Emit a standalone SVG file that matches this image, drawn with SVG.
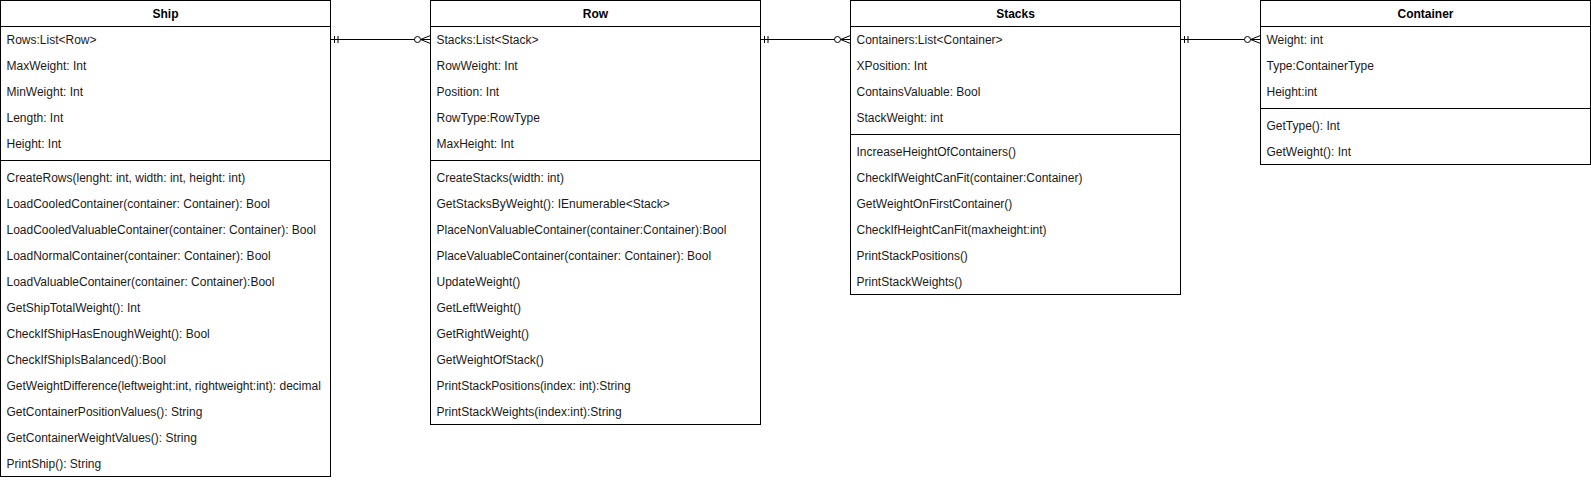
<svg xmlns="http://www.w3.org/2000/svg" width="1591" height="480" viewBox="0 0 1591 480">
<style>
.box{fill:#fff;stroke:#000;stroke-width:1}
.sep{stroke:#000;stroke-width:1}
.t{font-family:"Liberation Sans",Arial,Helvetica,sans-serif;font-size:12px;fill:#1a1a1a}
.title{font-family:"Liberation Sans",Arial,Helvetica,sans-serif;font-size:12px;fill:#000;text-anchor:middle;font-weight:bold}
.conn{fill:none;stroke:#000;stroke-width:1}
</style>
<defs>
<marker id="one" markerUnits="userSpaceOnUse" markerWidth="12" markerHeight="12" refX="0" refY="6" orient="auto" overflow="visible">
<path d="M4,2.5 L4,9.5 M7.5,2.5 L7.5,9.5" fill="none" stroke="#000" stroke-width="1"/>
</marker>
<marker id="zeroMany" markerUnits="userSpaceOnUse" markerWidth="20" markerHeight="12" refX="20" refY="6" orient="auto" overflow="visible">
<path d="M10,6 L20,2 M10,6 L20,10 M10,6 L20,6" fill="none" stroke="#000" stroke-width="1"/>
<circle cx="7" cy="6" r="3" fill="#fff" stroke="#000" stroke-width="1"/>
</marker>
</defs>
<rect width="1591" height="480" fill="#fff"/>
<g id="connectors">
<path class="conn" d="M330.5,39.5 L430.5,39.5" marker-start="url(#one)" marker-end="url(#zeroMany)"/>
<path class="conn" d="M760.5,39.5 L850.5,39.5" marker-start="url(#one)" marker-end="url(#zeroMany)"/>
<path class="conn" d="M1180.5,39.5 L1260.5,39.5" marker-start="url(#one)" marker-end="url(#zeroMany)"/>
</g>
<g id="ship">
<rect class="box" x="0.5" y="0.5" width="330" height="476"/>
<line class="sep" x1="0.5" y1="26.5" x2="330.5" y2="26.5"/>
<line class="sep" x1="0.5" y1="160.5" x2="330.5" y2="160.5"/>
<text class="title" x="165.5" y="17.5">Ship</text>
<text class="t" x="6.5" y="43.5">Rows:List&lt;Row&gt;</text>
<text class="t" x="6.5" y="69.5">MaxWeight: Int</text>
<text class="t" x="6.5" y="95.5">MinWeight: Int</text>
<text class="t" x="6.5" y="121.5">Length: Int</text>
<text class="t" x="6.5" y="147.5">Height: Int</text>
<text class="t" x="6.5" y="181.5">CreateRows(lenght: int, width: int, height: int)</text>
<text class="t" x="6.5" y="207.5">LoadCooledContainer(container: Container): Bool</text>
<text class="t" x="6.5" y="233.5">LoadCooledValuableContainer(container: Container): Bool</text>
<text class="t" x="6.5" y="259.5">LoadNormalContainer(container: Container): Bool</text>
<text class="t" x="6.5" y="285.5">LoadValuableContainer(container: Container):Bool</text>
<text class="t" x="6.5" y="311.5">GetShipTotalWeight(): Int</text>
<text class="t" x="6.5" y="337.5">CheckIfShipHasEnoughWeight(): Bool</text>
<text class="t" x="6.5" y="363.5">CheckIfShipIsBalanced():Bool</text>
<text class="t" x="6.5" y="389.5">GetWeightDifference(leftweight:int, rightweight:int): decimal</text>
<text class="t" x="6.5" y="415.5">GetContainerPositionValues(): String</text>
<text class="t" x="6.5" y="441.5">GetContainerWeightValues(): String</text>
<text class="t" x="6.5" y="467.5">PrintShip(): String</text>
</g>
<g id="row">
<rect class="box" x="430.5" y="0.5" width="330" height="424"/>
<line class="sep" x1="430.5" y1="26.5" x2="760.5" y2="26.5"/>
<line class="sep" x1="430.5" y1="160.5" x2="760.5" y2="160.5"/>
<text class="title" x="595.5" y="17.5">Row</text>
<text class="t" x="436.5" y="43.5">Stacks:List&lt;Stack&gt;</text>
<text class="t" x="436.5" y="69.5">RowWeight: Int</text>
<text class="t" x="436.5" y="95.5">Position: Int</text>
<text class="t" x="436.5" y="121.5">RowType:RowType</text>
<text class="t" x="436.5" y="147.5">MaxHeight: Int</text>
<text class="t" x="436.5" y="181.5">CreateStacks(width: int)</text>
<text class="t" x="436.5" y="207.5">GetStacksByWeight(): IEnumerable&lt;Stack&gt;</text>
<text class="t" x="436.5" y="233.5">PlaceNonValuableContainer(container:Container):Bool</text>
<text class="t" x="436.5" y="259.5">PlaceValuableContainer(container: Container): Bool</text>
<text class="t" x="436.5" y="285.5">UpdateWeight()</text>
<text class="t" x="436.5" y="311.5">GetLeftWeight()</text>
<text class="t" x="436.5" y="337.5">GetRightWeight()</text>
<text class="t" x="436.5" y="363.5">GetWeightOfStack()</text>
<text class="t" x="436.5" y="389.5">PrintStackPositions(index: int):String</text>
<text class="t" x="436.5" y="415.5">PrintStackWeights(index:int):String</text>
</g>
<g id="stacks">
<rect class="box" x="850.5" y="0.5" width="330" height="294"/>
<line class="sep" x1="850.5" y1="26.5" x2="1180.5" y2="26.5"/>
<line class="sep" x1="850.5" y1="134.5" x2="1180.5" y2="134.5"/>
<text class="title" x="1015.5" y="17.5">Stacks</text>
<text class="t" x="856.5" y="43.5">Containers:List&lt;Container&gt;</text>
<text class="t" x="856.5" y="69.5">XPosition: Int</text>
<text class="t" x="856.5" y="95.5">ContainsValuable: Bool</text>
<text class="t" x="856.5" y="121.5">StackWeight: int</text>
<text class="t" x="856.5" y="155.5">IncreaseHeightOfContainers()</text>
<text class="t" x="856.5" y="181.5">CheckIfWeightCanFit(container:Container)</text>
<text class="t" x="856.5" y="207.5">GetWeightOnFirstContainer()</text>
<text class="t" x="856.5" y="233.5">CheckIfHeightCanFit(maxheight:int)</text>
<text class="t" x="856.5" y="259.5">PrintStackPositions()</text>
<text class="t" x="856.5" y="285.5">PrintStackWeights()</text>
</g>
<g id="container">
<rect class="box" x="1260.5" y="0.5" width="330" height="164"/>
<line class="sep" x1="1260.5" y1="26.5" x2="1590.5" y2="26.5"/>
<line class="sep" x1="1260.5" y1="108.5" x2="1590.5" y2="108.5"/>
<text class="title" x="1425.5" y="17.5">Container</text>
<text class="t" x="1266.5" y="43.5">Weight: int</text>
<text class="t" x="1266.5" y="69.5">Type:ContainerType</text>
<text class="t" x="1266.5" y="95.5">Height:int</text>
<text class="t" x="1266.5" y="129.5">GetType(): Int</text>
<text class="t" x="1266.5" y="155.5">GetWeight(): Int</text>
</g>
</svg>
